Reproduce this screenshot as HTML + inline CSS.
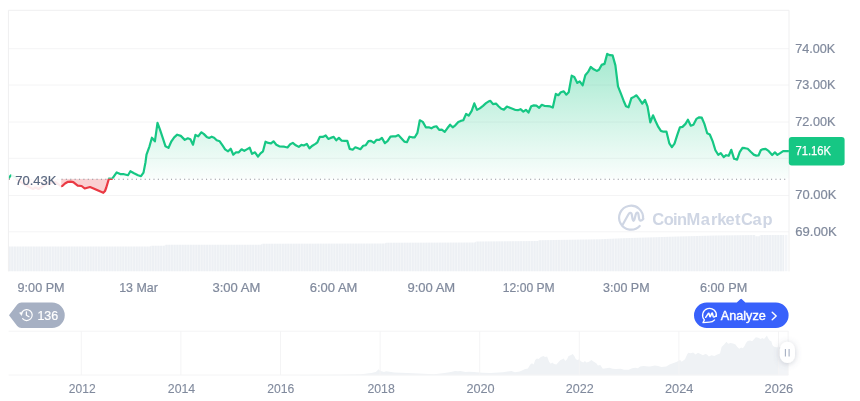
<!DOCTYPE html>
<html lang="en"><head><meta charset="utf-8"><title>BTC price chart</title>
<style>
html,body{margin:0;padding:0;background:#fff;}
body{width:860px;height:401px;overflow:hidden;font-family:"Liberation Sans",sans-serif;}
svg{display:block;}
text{font-family:"Liberation Sans",sans-serif;}
</style></head><body>
<svg width="860" height="401" viewBox="0 0 860 401" style="will-change:transform">
<defs>
<linearGradient id="gg" gradientUnits="userSpaceOnUse" x1="0" y1="50" x2="0" y2="179">
<stop offset="0" stop-color="#16c784" stop-opacity="0.40"/>
<stop offset="1" stop-color="#16c784" stop-opacity="0.02"/>
</linearGradient>
<pattern id="vs" patternUnits="userSpaceOnUse" x="8.64" y="0" width="2.7066" height="50">
<rect x="0" y="0" width="2.2" height="50" fill="#edf0f4"/><rect x="2.2" y="0" width="0.5066" height="50" fill="#f2f4f7"/>
</pattern>
<filter id="sh" x="-60%" y="-40%" width="220%" height="200%"><feDropShadow dx="0" dy="1" stdDeviation="3" flood-color="#58667e" flood-opacity="0.3"/></filter>
<clipPath id="cu"><rect x="8.9" y="10" width="780" height="168.8"/></clipPath>
<clipPath id="cd"><rect x="8.9" y="178.8" width="104" height="60"/></clipPath>
</defs>
<rect width="860" height="401" fill="#fff"/>

<line x1="8" y1="48.7" x2="789" y2="48.7" stroke="#f4f4f5" stroke-width="1"/>
<line x1="8" y1="85.0" x2="789" y2="85.0" stroke="#f4f4f5" stroke-width="1"/>
<line x1="8" y1="122.0" x2="789" y2="122.0" stroke="#f4f4f5" stroke-width="1"/>
<line x1="8" y1="158.3" x2="789" y2="158.3" stroke="#f4f4f5" stroke-width="1"/>
<line x1="8" y1="195.5" x2="789" y2="195.5" stroke="#f4f4f5" stroke-width="1"/>
<line x1="8" y1="231.8" x2="789" y2="231.8" stroke="#f4f4f5" stroke-width="1"/>
<path d="M8.6 246.6 L150.0 246.5 L151.0 245.8 L164.5 245.7 L165.5 244.8 L261.0 244.7 L262.0 243.8 L385.0 243.4 L386.0 242.8 L475.0 242.5 L476.0 241.4 L538.0 241.0 L539.0 240.2 L600.0 239.2 L622.0 238.2 L678.0 236.6 L715.0 235.4 L755.0 235.0 L755.5 236.2 L759.5 236.2 L760.0 235.0 L784.3 234.9 L784.3 271.2 L8.6 271.2 Z" fill="url(#vs)"/>
<rect x="785" y="234.9" width="2.4" height="36.3" fill="#f3f5f8"/>
<path d="M8.4 271.4 V10.3 H789 V271.4" fill="none" stroke="#efeff0" stroke-width="1"/>
<g id="wm" fill="none" stroke="#cfd6e4" stroke-width="2.2" stroke-linecap="round" stroke-linejoin="round">
<path d="M643.05 218.75 A12 12 0 1 0 639.73 226.04"/>
<path d="M622.8 224.5 L628.2 214.8 C629.4 212.6 631.2 211.8 631.7 214.2 L632.5 218.8 C633 221.6 634 221.6 634.6 219 L635.7 214.6 C636.4 212.2 638 211.8 638.4 214.2 L639 218 C639.5 221.4 641.2 221.2 643.3 218.9"/>
</g>
<text x="652.2 663.7 673.1 677 686.6 700.7 710.9 717.2 725.6 735 740.9 752.4 762.6" y="224.7" font-size="16.5" font-weight="700" fill="#cfd6e4">CoinMarketCap</text>

<g clip-path="url(#cu)"><path d="M8.6 178.2 L10.8 175.4 L13.0 176.0 L15.5 177.2 L16.5 179.0 L20.0 181.5 L24.0 184.0 L27.0 185.8 L30.0 187.5 L33.0 189.0 L35.5 187.5 L38.5 189.0 L41.0 187.5 L45.0 184.5 L50.0 183.5 L55.0 182.0 L58.0 184.0 L61.0 186.3 L62.3 186.0 L65.0 183.5 L68.0 181.8 L70.5 181.6 L73.3 182.2 L77.7 185.7 L81.6 186.0 L84.7 188.5 L90.0 187.0 L93.0 188.2 L97.0 190.0 L100.5 191.6 L103.3 192.8 L105.0 191.0 L106.3 187.5 L108.9 178.7 L112.1 178.9 L116.7 172.4 L120.2 174.1 L124.0 174.2 L128.0 175.2 L130.4 171.2 L134.0 173.2 L138.0 175.2 L141.0 176.2 L143.5 172.6 L145.5 162.2 L146.5 154.7 L149.5 146.3 L151.9 137.7 L154.9 141.3 L157.5 122.8 L159.9 129.3 L162.9 138.3 L165.5 146.3 L168.5 147.9 L171.4 141.3 L174.2 137.3 L177.2 134.7 L180.8 135.9 L184.8 139.9 L187.8 138.3 L190.4 139.3 L193.0 144.7 L195.4 134.9 L198.2 136.3 L201.2 132.3 L203.7 133.9 L206.7 136.9 L209.1 137.9 L211.7 136.7 L214.1 137.7 L216.7 140.3 L219.7 141.3 L222.7 145.7 L225.1 149.3 L228.1 151.3 L230.7 148.7 L233.3 154.7 L236.0 152.3 L238.8 152.3 L241.6 149.3 L244.3 150.9 L247.2 149.1 L249.7 147.7 L252.0 153.9 L255.0 152.3 L258.0 156.7 L260.5 153.3 L263.0 151.3 L265.5 141.7 L268.3 142.9 L271.0 143.3 L273.5 141.3 L276.3 144.7 L279.3 146.3 L284.3 146.7 L287.5 147.5 L290.2 144.3 L292.8 142.9 L295.8 145.3 L298.8 146.9 L301.4 144.9 L303.8 145.5 L306.8 143.9 L309.4 148.3 L312.4 145.7 L315.4 143.9 L317.4 142.3 L319.8 136.9 L322.8 136.9 L325.7 135.5 L328.3 138.9 L330.7 137.9 L333.7 136.9 L336.3 140.3 L338.9 137.9 L341.7 140.7 L344.7 140.9 L347.3 140.9 L349.7 148.9 L352.7 149.7 L355.3 147.3 L358.0 148.3 L360.4 149.2 L363.2 145.8 L365.8 145.2 L368.5 141.2 L371.0 140.8 L374.0 142.8 L376.6 139.8 L379.3 139.8 L381.9 137.9 L384.9 143.2 L387.5 141.2 L390.5 136.7 L392.9 136.3 L395.9 136.3 L398.5 135.1 L401.3 138.3 L404.3 141.6 L406.9 142.2 L409.5 136.7 L412.2 137.3 L414.8 137.3 L417.4 132.9 L419.8 120.3 L422.8 121.9 L425.8 127.3 L428.8 127.3 L431.4 128.3 L433.8 126.9 L436.4 126.3 L439.2 129.9 L441.8 129.7 L444.7 131.9 L447.3 128.3 L450.1 124.7 L452.7 127.3 L455.3 125.3 L458.3 121.9 L460.7 120.9 L463.3 120.3 L466.1 113.9 L468.7 115.7 L471.7 110.9 L474.3 103.4 L477.0 109.9 L479.8 108.4 L483.0 105.8 L486.0 103.2 L488.4 101.6 L490.4 100.8 L493.0 104.2 L496.0 103.6 L498.5 106.2 L501.3 108.8 L503.9 109.6 L506.9 106.6 L509.9 107.8 L512.5 108.8 L515.5 110.0 L517.9 110.2 L520.5 109.2 L523.3 111.6 L525.9 109.8 L528.5 112.6 L531.2 106.2 L533.8 105.4 L536.4 105.6 L539.2 107.8 L541.8 104.8 L544.8 106.0 L547.8 106.2 L550.2 106.4 L552.8 107.6 L555.8 93.9 L558.4 95.2 L560.8 92.3 L563.8 91.3 L566.3 94.7 L568.7 92.3 L571.7 75.7 L574.3 76.9 L577.3 82.9 L579.7 81.3 L582.7 85.3 L585.3 75.3 L588.1 71.9 L590.7 66.9 L593.7 69.3 L596.7 70.9 L599.0 69.7 L601.6 64.9 L604.5 63.9 L607.2 53.9 L610.0 55.2 L612.6 55.4 L615.4 65.4 L618.0 86.3 L621.0 93.9 L623.6 100.7 L626.0 106.3 L628.5 107.3 L631.3 98.3 L633.9 96.9 L636.5 95.3 L639.5 99.3 L642.3 103.7 L645.0 100.0 L647.5 106.4 L650.3 122.4 L653.0 115.3 L655.6 121.3 L658.3 126.9 L660.9 130.9 L663.5 131.7 L666.5 131.7 L669.3 143.3 L671.9 147.2 L674.5 143.7 L677.3 134.9 L679.9 127.3 L682.5 126.9 L685.5 123.9 L687.9 119.7 L690.8 125.7 L693.4 124.7 L696.4 118.9 L699.2 117.3 L701.8 117.7 L704.4 123.9 L707.2 133.3 L709.8 134.5 L712.8 141.7 L715.4 150.2 L718.2 154.8 L720.8 153.2 L723.7 157.2 L726.1 155.2 L728.7 155.8 L731.3 149.8 L734.1 158.8 L737.1 159.6 L739.7 152.2 L742.5 147.8 L745.1 148.2 L747.7 148.8 L750.7 151.8 L753.7 154.6 L756.3 155.6 L758.5 155.5 L760.8 150.3 L762.2 149.4 L765.6 148.8 L768.8 151.2 L772.2 155.0 L774.9 152.4 L777.4 154.9 L780.2 153.1 L783.1 151.2 L788.7 151.2 L788.7 178.8 L8.6 178.8 Z" fill="url(#gg)"/></g>
<g clip-path="url(#cd)"><path d="M8.6 178.2 L10.8 175.4 L13.0 176.0 L15.5 177.2 L16.5 179.0 L20.0 181.5 L24.0 184.0 L27.0 185.8 L30.0 187.5 L33.0 189.0 L35.5 187.5 L38.5 189.0 L41.0 187.5 L45.0 184.5 L50.0 183.5 L55.0 182.0 L58.0 184.0 L61.0 186.3 L62.3 186.0 L65.0 183.5 L68.0 181.8 L70.5 181.6 L73.3 182.2 L77.7 185.7 L81.6 186.0 L84.7 188.5 L90.0 187.0 L93.0 188.2 L97.0 190.0 L100.5 191.6 L103.3 192.8 L105.0 191.0 L106.3 187.5 L108.9 178.7 L112.1 178.9 L116.7 172.4 L120.2 174.1 L124.0 174.2 L128.0 175.2 L130.4 171.2 L134.0 173.2 L138.0 175.2 L141.0 176.2 L143.5 172.6 L145.5 162.2 L146.5 154.7 L149.5 146.3 L151.9 137.7 L154.9 141.3 L157.5 122.8 L159.9 129.3 L162.9 138.3 L165.5 146.3 L168.5 147.9 L171.4 141.3 L174.2 137.3 L177.2 134.7 L180.8 135.9 L184.8 139.9 L187.8 138.3 L190.4 139.3 L193.0 144.7 L195.4 134.9 L198.2 136.3 L201.2 132.3 L203.7 133.9 L206.7 136.9 L209.1 137.9 L211.7 136.7 L214.1 137.7 L216.7 140.3 L219.7 141.3 L222.7 145.7 L225.1 149.3 L228.1 151.3 L230.7 148.7 L233.3 154.7 L236.0 152.3 L238.8 152.3 L241.6 149.3 L244.3 150.9 L247.2 149.1 L249.7 147.7 L252.0 153.9 L255.0 152.3 L258.0 156.7 L260.5 153.3 L263.0 151.3 L265.5 141.7 L268.3 142.9 L271.0 143.3 L273.5 141.3 L276.3 144.7 L279.3 146.3 L284.3 146.7 L287.5 147.5 L290.2 144.3 L292.8 142.9 L295.8 145.3 L298.8 146.9 L301.4 144.9 L303.8 145.5 L306.8 143.9 L309.4 148.3 L312.4 145.7 L315.4 143.9 L317.4 142.3 L319.8 136.9 L322.8 136.9 L325.7 135.5 L328.3 138.9 L330.7 137.9 L333.7 136.9 L336.3 140.3 L338.9 137.9 L341.7 140.7 L344.7 140.9 L347.3 140.9 L349.7 148.9 L352.7 149.7 L355.3 147.3 L358.0 148.3 L360.4 149.2 L363.2 145.8 L365.8 145.2 L368.5 141.2 L371.0 140.8 L374.0 142.8 L376.6 139.8 L379.3 139.8 L381.9 137.9 L384.9 143.2 L387.5 141.2 L390.5 136.7 L392.9 136.3 L395.9 136.3 L398.5 135.1 L401.3 138.3 L404.3 141.6 L406.9 142.2 L409.5 136.7 L412.2 137.3 L414.8 137.3 L417.4 132.9 L419.8 120.3 L422.8 121.9 L425.8 127.3 L428.8 127.3 L431.4 128.3 L433.8 126.9 L436.4 126.3 L439.2 129.9 L441.8 129.7 L444.7 131.9 L447.3 128.3 L450.1 124.7 L452.7 127.3 L455.3 125.3 L458.3 121.9 L460.7 120.9 L463.3 120.3 L466.1 113.9 L468.7 115.7 L471.7 110.9 L474.3 103.4 L477.0 109.9 L479.8 108.4 L483.0 105.8 L486.0 103.2 L488.4 101.6 L490.4 100.8 L493.0 104.2 L496.0 103.6 L498.5 106.2 L501.3 108.8 L503.9 109.6 L506.9 106.6 L509.9 107.8 L512.5 108.8 L515.5 110.0 L517.9 110.2 L520.5 109.2 L523.3 111.6 L525.9 109.8 L528.5 112.6 L531.2 106.2 L533.8 105.4 L536.4 105.6 L539.2 107.8 L541.8 104.8 L544.8 106.0 L547.8 106.2 L550.2 106.4 L552.8 107.6 L555.8 93.9 L558.4 95.2 L560.8 92.3 L563.8 91.3 L566.3 94.7 L568.7 92.3 L571.7 75.7 L574.3 76.9 L577.3 82.9 L579.7 81.3 L582.7 85.3 L585.3 75.3 L588.1 71.9 L590.7 66.9 L593.7 69.3 L596.7 70.9 L599.0 69.7 L601.6 64.9 L604.5 63.9 L607.2 53.9 L610.0 55.2 L612.6 55.4 L615.4 65.4 L618.0 86.3 L621.0 93.9 L623.6 100.7 L626.0 106.3 L628.5 107.3 L631.3 98.3 L633.9 96.9 L636.5 95.3 L639.5 99.3 L642.3 103.7 L645.0 100.0 L647.5 106.4 L650.3 122.4 L653.0 115.3 L655.6 121.3 L658.3 126.9 L660.9 130.9 L663.5 131.7 L666.5 131.7 L669.3 143.3 L671.9 147.2 L674.5 143.7 L677.3 134.9 L679.9 127.3 L682.5 126.9 L685.5 123.9 L687.9 119.7 L690.8 125.7 L693.4 124.7 L696.4 118.9 L699.2 117.3 L701.8 117.7 L704.4 123.9 L707.2 133.3 L709.8 134.5 L712.8 141.7 L715.4 150.2 L718.2 154.8 L720.8 153.2 L723.7 157.2 L726.1 155.2 L728.7 155.8 L731.3 149.8 L734.1 158.8 L737.1 159.6 L739.7 152.2 L742.5 147.8 L745.1 148.2 L747.7 148.8 L750.7 151.8 L753.7 154.6 L756.3 155.6 L758.5 155.5 L760.8 150.3 L762.2 149.4 L765.6 148.8 L768.8 151.2 L772.2 155.0 L774.9 152.4 L777.4 154.9 L780.2 153.1 L783.1 151.2 L788.7 151.2 L788.7 178.8 L8.6 178.8 Z" fill="#ea3943" fill-opacity="0.24"/></g>
<line x1="8.9" y1="179.25" x2="788" y2="179.25" stroke="#8e929a" stroke-width="1.15" stroke-dasharray="1.1 3.28"/>
<g clip-path="url(#cu)"><path d="M8.6 178.2 L10.8 175.4 L13.0 176.0 L15.5 177.2 L16.5 179.0 L20.0 181.5 L24.0 184.0 L27.0 185.8 L30.0 187.5 L33.0 189.0 L35.5 187.5 L38.5 189.0 L41.0 187.5 L45.0 184.5 L50.0 183.5 L55.0 182.0 L58.0 184.0 L61.0 186.3 L62.3 186.0 L65.0 183.5 L68.0 181.8 L70.5 181.6 L73.3 182.2 L77.7 185.7 L81.6 186.0 L84.7 188.5 L90.0 187.0 L93.0 188.2 L97.0 190.0 L100.5 191.6 L103.3 192.8 L105.0 191.0 L106.3 187.5 L108.9 178.7 L112.1 178.9 L116.7 172.4 L120.2 174.1 L124.0 174.2 L128.0 175.2 L130.4 171.2 L134.0 173.2 L138.0 175.2 L141.0 176.2 L143.5 172.6 L145.5 162.2 L146.5 154.7 L149.5 146.3 L151.9 137.7 L154.9 141.3 L157.5 122.8 L159.9 129.3 L162.9 138.3 L165.5 146.3 L168.5 147.9 L171.4 141.3 L174.2 137.3 L177.2 134.7 L180.8 135.9 L184.8 139.9 L187.8 138.3 L190.4 139.3 L193.0 144.7 L195.4 134.9 L198.2 136.3 L201.2 132.3 L203.7 133.9 L206.7 136.9 L209.1 137.9 L211.7 136.7 L214.1 137.7 L216.7 140.3 L219.7 141.3 L222.7 145.7 L225.1 149.3 L228.1 151.3 L230.7 148.7 L233.3 154.7 L236.0 152.3 L238.8 152.3 L241.6 149.3 L244.3 150.9 L247.2 149.1 L249.7 147.7 L252.0 153.9 L255.0 152.3 L258.0 156.7 L260.5 153.3 L263.0 151.3 L265.5 141.7 L268.3 142.9 L271.0 143.3 L273.5 141.3 L276.3 144.7 L279.3 146.3 L284.3 146.7 L287.5 147.5 L290.2 144.3 L292.8 142.9 L295.8 145.3 L298.8 146.9 L301.4 144.9 L303.8 145.5 L306.8 143.9 L309.4 148.3 L312.4 145.7 L315.4 143.9 L317.4 142.3 L319.8 136.9 L322.8 136.9 L325.7 135.5 L328.3 138.9 L330.7 137.9 L333.7 136.9 L336.3 140.3 L338.9 137.9 L341.7 140.7 L344.7 140.9 L347.3 140.9 L349.7 148.9 L352.7 149.7 L355.3 147.3 L358.0 148.3 L360.4 149.2 L363.2 145.8 L365.8 145.2 L368.5 141.2 L371.0 140.8 L374.0 142.8 L376.6 139.8 L379.3 139.8 L381.9 137.9 L384.9 143.2 L387.5 141.2 L390.5 136.7 L392.9 136.3 L395.9 136.3 L398.5 135.1 L401.3 138.3 L404.3 141.6 L406.9 142.2 L409.5 136.7 L412.2 137.3 L414.8 137.3 L417.4 132.9 L419.8 120.3 L422.8 121.9 L425.8 127.3 L428.8 127.3 L431.4 128.3 L433.8 126.9 L436.4 126.3 L439.2 129.9 L441.8 129.7 L444.7 131.9 L447.3 128.3 L450.1 124.7 L452.7 127.3 L455.3 125.3 L458.3 121.9 L460.7 120.9 L463.3 120.3 L466.1 113.9 L468.7 115.7 L471.7 110.9 L474.3 103.4 L477.0 109.9 L479.8 108.4 L483.0 105.8 L486.0 103.2 L488.4 101.6 L490.4 100.8 L493.0 104.2 L496.0 103.6 L498.5 106.2 L501.3 108.8 L503.9 109.6 L506.9 106.6 L509.9 107.8 L512.5 108.8 L515.5 110.0 L517.9 110.2 L520.5 109.2 L523.3 111.6 L525.9 109.8 L528.5 112.6 L531.2 106.2 L533.8 105.4 L536.4 105.6 L539.2 107.8 L541.8 104.8 L544.8 106.0 L547.8 106.2 L550.2 106.4 L552.8 107.6 L555.8 93.9 L558.4 95.2 L560.8 92.3 L563.8 91.3 L566.3 94.7 L568.7 92.3 L571.7 75.7 L574.3 76.9 L577.3 82.9 L579.7 81.3 L582.7 85.3 L585.3 75.3 L588.1 71.9 L590.7 66.9 L593.7 69.3 L596.7 70.9 L599.0 69.7 L601.6 64.9 L604.5 63.9 L607.2 53.9 L610.0 55.2 L612.6 55.4 L615.4 65.4 L618.0 86.3 L621.0 93.9 L623.6 100.7 L626.0 106.3 L628.5 107.3 L631.3 98.3 L633.9 96.9 L636.5 95.3 L639.5 99.3 L642.3 103.7 L645.0 100.0 L647.5 106.4 L650.3 122.4 L653.0 115.3 L655.6 121.3 L658.3 126.9 L660.9 130.9 L663.5 131.7 L666.5 131.7 L669.3 143.3 L671.9 147.2 L674.5 143.7 L677.3 134.9 L679.9 127.3 L682.5 126.9 L685.5 123.9 L687.9 119.7 L690.8 125.7 L693.4 124.7 L696.4 118.9 L699.2 117.3 L701.8 117.7 L704.4 123.9 L707.2 133.3 L709.8 134.5 L712.8 141.7 L715.4 150.2 L718.2 154.8 L720.8 153.2 L723.7 157.2 L726.1 155.2 L728.7 155.8 L731.3 149.8 L734.1 158.8 L737.1 159.6 L739.7 152.2 L742.5 147.8 L745.1 148.2 L747.7 148.8 L750.7 151.8 L753.7 154.6 L756.3 155.6 L758.5 155.5 L760.8 150.3 L762.2 149.4 L765.6 148.8 L768.8 151.2 L772.2 155.0 L774.9 152.4 L777.4 154.9 L780.2 153.1 L783.1 151.2 L788.7 151.2" fill="none" stroke="#16c784" stroke-width="2.2" stroke-linejoin="round" stroke-linecap="round"/></g>
<g clip-path="url(#cd)"><path d="M8.6 178.2 L10.8 175.4 L13.0 176.0 L15.5 177.2 L16.5 179.0 L20.0 181.5 L24.0 184.0 L27.0 185.8 L30.0 187.5 L33.0 189.0 L35.5 187.5 L38.5 189.0 L41.0 187.5 L45.0 184.5 L50.0 183.5 L55.0 182.0 L58.0 184.0 L61.0 186.3 L62.3 186.0 L65.0 183.5 L68.0 181.8 L70.5 181.6 L73.3 182.2 L77.7 185.7 L81.6 186.0 L84.7 188.5 L90.0 187.0 L93.0 188.2 L97.0 190.0 L100.5 191.6 L103.3 192.8 L105.0 191.0 L106.3 187.5 L108.9 178.7 L112.1 178.9 L116.7 172.4 L120.2 174.1 L124.0 174.2 L128.0 175.2 L130.4 171.2 L134.0 173.2 L138.0 175.2 L141.0 176.2 L143.5 172.6 L145.5 162.2 L146.5 154.7 L149.5 146.3 L151.9 137.7 L154.9 141.3 L157.5 122.8 L159.9 129.3 L162.9 138.3 L165.5 146.3 L168.5 147.9 L171.4 141.3 L174.2 137.3 L177.2 134.7 L180.8 135.9 L184.8 139.9 L187.8 138.3 L190.4 139.3 L193.0 144.7 L195.4 134.9 L198.2 136.3 L201.2 132.3 L203.7 133.9 L206.7 136.9 L209.1 137.9 L211.7 136.7 L214.1 137.7 L216.7 140.3 L219.7 141.3 L222.7 145.7 L225.1 149.3 L228.1 151.3 L230.7 148.7 L233.3 154.7 L236.0 152.3 L238.8 152.3 L241.6 149.3 L244.3 150.9 L247.2 149.1 L249.7 147.7 L252.0 153.9 L255.0 152.3 L258.0 156.7 L260.5 153.3 L263.0 151.3 L265.5 141.7 L268.3 142.9 L271.0 143.3 L273.5 141.3 L276.3 144.7 L279.3 146.3 L284.3 146.7 L287.5 147.5 L290.2 144.3 L292.8 142.9 L295.8 145.3 L298.8 146.9 L301.4 144.9 L303.8 145.5 L306.8 143.9 L309.4 148.3 L312.4 145.7 L315.4 143.9 L317.4 142.3 L319.8 136.9 L322.8 136.9 L325.7 135.5 L328.3 138.9 L330.7 137.9 L333.7 136.9 L336.3 140.3 L338.9 137.9 L341.7 140.7 L344.7 140.9 L347.3 140.9 L349.7 148.9 L352.7 149.7 L355.3 147.3 L358.0 148.3 L360.4 149.2 L363.2 145.8 L365.8 145.2 L368.5 141.2 L371.0 140.8 L374.0 142.8 L376.6 139.8 L379.3 139.8 L381.9 137.9 L384.9 143.2 L387.5 141.2 L390.5 136.7 L392.9 136.3 L395.9 136.3 L398.5 135.1 L401.3 138.3 L404.3 141.6 L406.9 142.2 L409.5 136.7 L412.2 137.3 L414.8 137.3 L417.4 132.9 L419.8 120.3 L422.8 121.9 L425.8 127.3 L428.8 127.3 L431.4 128.3 L433.8 126.9 L436.4 126.3 L439.2 129.9 L441.8 129.7 L444.7 131.9 L447.3 128.3 L450.1 124.7 L452.7 127.3 L455.3 125.3 L458.3 121.9 L460.7 120.9 L463.3 120.3 L466.1 113.9 L468.7 115.7 L471.7 110.9 L474.3 103.4 L477.0 109.9 L479.8 108.4 L483.0 105.8 L486.0 103.2 L488.4 101.6 L490.4 100.8 L493.0 104.2 L496.0 103.6 L498.5 106.2 L501.3 108.8 L503.9 109.6 L506.9 106.6 L509.9 107.8 L512.5 108.8 L515.5 110.0 L517.9 110.2 L520.5 109.2 L523.3 111.6 L525.9 109.8 L528.5 112.6 L531.2 106.2 L533.8 105.4 L536.4 105.6 L539.2 107.8 L541.8 104.8 L544.8 106.0 L547.8 106.2 L550.2 106.4 L552.8 107.6 L555.8 93.9 L558.4 95.2 L560.8 92.3 L563.8 91.3 L566.3 94.7 L568.7 92.3 L571.7 75.7 L574.3 76.9 L577.3 82.9 L579.7 81.3 L582.7 85.3 L585.3 75.3 L588.1 71.9 L590.7 66.9 L593.7 69.3 L596.7 70.9 L599.0 69.7 L601.6 64.9 L604.5 63.9 L607.2 53.9 L610.0 55.2 L612.6 55.4 L615.4 65.4 L618.0 86.3 L621.0 93.9 L623.6 100.7 L626.0 106.3 L628.5 107.3 L631.3 98.3 L633.9 96.9 L636.5 95.3 L639.5 99.3 L642.3 103.7 L645.0 100.0 L647.5 106.4 L650.3 122.4 L653.0 115.3 L655.6 121.3 L658.3 126.9 L660.9 130.9 L663.5 131.7 L666.5 131.7 L669.3 143.3 L671.9 147.2 L674.5 143.7 L677.3 134.9 L679.9 127.3 L682.5 126.9 L685.5 123.9 L687.9 119.7 L690.8 125.7 L693.4 124.7 L696.4 118.9 L699.2 117.3 L701.8 117.7 L704.4 123.9 L707.2 133.3 L709.8 134.5 L712.8 141.7 L715.4 150.2 L718.2 154.8 L720.8 153.2 L723.7 157.2 L726.1 155.2 L728.7 155.8 L731.3 149.8 L734.1 158.8 L737.1 159.6 L739.7 152.2 L742.5 147.8 L745.1 148.2 L747.7 148.8 L750.7 151.8 L753.7 154.6 L756.3 155.6 L758.5 155.5 L760.8 150.3 L762.2 149.4 L765.6 148.8 L768.8 151.2 L772.2 155.0 L774.9 152.4 L777.4 154.9 L780.2 153.1 L783.1 151.2 L788.7 151.2" fill="none" stroke="#ea3943" stroke-width="2.2" stroke-linejoin="round" stroke-linecap="round"/></g>
<rect x="11.2" y="168" width="50" height="24" fill="#fff" fill-opacity="0.9"/>
<text x="15.2" y="184.8" font-size="12.2" fill="#58667e" stroke="#58667e" stroke-width="0.15" textLength="41.4" lengthAdjust="spacingAndGlyphs">70.43K</text>
<text x="795.3" y="52.6" font-size="12.4" fill="#808a9d" stroke="#808a9d" stroke-width="0.2" textLength="40" lengthAdjust="spacingAndGlyphs">74.00K</text>
<text x="795.3" y="88.9" font-size="12.4" fill="#808a9d" stroke="#808a9d" stroke-width="0.2" textLength="40.1" lengthAdjust="spacingAndGlyphs">73.00K</text>
<text x="795.3" y="125.9" font-size="12.4" fill="#808a9d" stroke="#808a9d" stroke-width="0.2" textLength="40.1" lengthAdjust="spacingAndGlyphs">72.00K</text>
<text x="795.3" y="162.2" font-size="12.4" fill="#808a9d" stroke="#808a9d" stroke-width="0.2" textLength="38.6" lengthAdjust="spacingAndGlyphs">71.00K</text>
<text x="795.3" y="199.4" font-size="12.4" fill="#808a9d" stroke="#808a9d" stroke-width="0.2" textLength="41" lengthAdjust="spacingAndGlyphs">70.00K</text>
<text x="795.3" y="235.7" font-size="12.4" fill="#808a9d" stroke="#808a9d" stroke-width="0.2" textLength="41.5" lengthAdjust="spacingAndGlyphs">69.00K</text>
<rect x="788.8" y="137" width="55.8" height="28.4" rx="3" fill="#16c784"/>
<text x="795.4" y="155.2" font-size="12.3" fill="#fff" stroke="#fff" stroke-width="0.25" textLength="35.6" lengthAdjust="spacingAndGlyphs">71.16K</text>
<text x="17.6" y="292.3" font-size="12.2" fill="#808a9d" stroke="#808a9d" stroke-width="0.2" textLength="47" lengthAdjust="spacingAndGlyphs">9:00 PM</text>
<text x="119.2" y="292.3" font-size="12.2" fill="#808a9d" stroke="#808a9d" stroke-width="0.2" textLength="38.6" lengthAdjust="spacingAndGlyphs">13 Mar</text>
<text x="212.5" y="292.3" font-size="12.2" fill="#808a9d" stroke="#808a9d" stroke-width="0.2" textLength="47.8" lengthAdjust="spacingAndGlyphs">3:00 AM</text>
<text x="309.7" y="292.3" font-size="12.2" fill="#808a9d" stroke="#808a9d" stroke-width="0.2" textLength="47.7" lengthAdjust="spacingAndGlyphs">6:00 AM</text>
<text x="407.4" y="292.3" font-size="12.2" fill="#808a9d" stroke="#808a9d" stroke-width="0.2" textLength="47.8" lengthAdjust="spacingAndGlyphs">9:00 AM</text>
<text x="502.8" y="292.3" font-size="12.2" fill="#808a9d" stroke="#808a9d" stroke-width="0.2" textLength="51.9" lengthAdjust="spacingAndGlyphs">12:00 PM</text>
<text x="603.1" y="292.3" font-size="12.2" fill="#808a9d" stroke="#808a9d" stroke-width="0.2" textLength="46.5" lengthAdjust="spacingAndGlyphs">3:00 PM</text>
<text x="700" y="292.3" font-size="12.2" fill="#808a9d" stroke="#808a9d" stroke-width="0.2" textLength="47.2" lengthAdjust="spacingAndGlyphs">6:00 PM</text>
<path d="M9 315.3 L17.2 304.6 Q18.8 302.5 21.5 302.5 H52 A12.75 12.75 0 0 1 52 328 H21.5 Q18.8 328 17.2 325.9 Z" fill="#a6b0c3"/>
<g fill="none" stroke="#fff" stroke-linecap="round" stroke-linejoin="round">
<path d="M22.4 311.6 A5.5 5.5 0 1 1 22.6 318.7" stroke-width="1.2"/>
<path d="M26.4 311.9 V315.2 L29 316.7" stroke-width="1.3"/>
</g>
<path d="M19.5 312.8 L22.7 311.9 L21.5 315.5 Z" fill="#fff" stroke="#fff" stroke-width="0.5" stroke-linejoin="round"/>
<text x="37.4" y="319.8" font-size="12.2" fill="#fff" stroke="#fff" stroke-width="0.2" textLength="20.8" lengthAdjust="spacingAndGlyphs">136</text>

<path d="M706.8 302.4 H736.8 L740.3 299.2 Q741.1 298.5 741.9 299.2 L745.4 302.4 H775.8 A12.8 12.8 0 0 1 775.8 328 H706.8 A12.8 12.8 0 0 1 706.8 302.4 Z" fill="#3861fb"/>
<g fill="none" stroke="#fff" stroke-linecap="round" stroke-linejoin="round">
<path d="M714.6 319.9 Q712.6 322.2 709.4 322.2 L703 322.6 L704.4 319.9 A6.9 6.9 0 1 1 716.3 316.4" stroke-width="1.3"/>
<path d="M705.7 317.3 L708.2 313.6 Q708.8 312.9 709.1 313.8 L709.8 316.4 Q710.1 317 710.5 316.3 L711.7 313.4 Q712.2 312.7 712.5 313.6 L713.1 316.2 Q713.6 317.8 716.2 315.9" stroke-width="1.5"/>
</g>
<text x="720.8" y="319.8" font-size="12.4" fill="#fff" stroke="#fff" stroke-width="0.35" textLength="45" lengthAdjust="spacingAndGlyphs">Analyze</text>
<path d="M772.2 312.3 L776.2 316 L772.2 319.7" fill="none" stroke="#fff" stroke-width="1.4" stroke-linecap="round" stroke-linejoin="round"/>

<path d="M300.0 374.9 L340.0 374.8 L361.0 374.2 L371.4 373.1 L375.6 372.1 L377.0 371.0 L378.3 369.3 L379.5 370.2 L380.8 371.0 L384.0 372.1 L386.0 371.3 L388.0 371.6 L391.0 372.0 L394.4 372.5 L407.0 373.1 L423.7 373.7 L434.0 374.2 L444.6 373.1 L450.9 371.9 L453.0 371.6 L455.0 371.0 L458.0 371.3 L460.3 371.0 L465.5 371.9 L469.0 371.7 L473.9 372.1 L482.3 372.7 L490.6 373.1 L499.0 372.5 L503.0 372.2 L507.4 371.6 L511.5 371.0 L514.9 372.3 L519.8 371.5 L524.7 369.3 L527.9 368.5 L530.3 364.5 L532.0 363.3 L533.6 364.5 L535.2 360.1 L536.9 358.4 L538.5 358.9 L540.9 357.1 L543.4 356.0 L545.0 357.1 L547.1 356.5 L549.1 361.7 L550.7 363.8 L552.3 362.5 L554.0 364.1 L556.4 364.6 L558.8 361.7 L560.5 360.1 L562.4 359.2 L563.7 358.4 L565.3 360.9 L567.0 359.2 L568.6 356.0 L570.6 355.2 L572.7 354.0 L574.3 356.0 L575.9 359.2 L577.6 360.1 L579.2 359.2 L580.8 361.2 L583.3 362.5 L584.9 360.9 L586.5 362.5 L589.0 361.7 L591.4 360.1 L593.8 361.7 L596.3 363.3 L597.9 365.4 L600.3 364.9 L602.8 368.7 L606.0 368.2 L609.3 367.7 L612.6 368.7 L615.8 369.0 L620.7 368.7 L624.0 369.8 L628.8 369.8 L632.1 368.2 L635.3 367.7 L637.8 368.2 L640.2 366.6 L643.5 366.1 L648.4 366.6 L650.0 366.6 L654.9 365.4 L658.1 366.1 L661.4 367.1 L666.3 366.6 L669.5 364.5 L673.6 363.0 L676.9 361.7 L680.1 360.1 L681.7 361.7 L685.0 359.2 L687.1 354.4 L688.3 352.7 L690.7 353.2 L693.1 352.4 L695.6 354.4 L698.0 352.7 L700.5 354.0 L702.9 355.2 L705.3 354.0 L707.0 354.4 L708.9 356.5 L711.5 355.2 L714.3 356.0 L716.7 354.7 L720.0 353.5 L721.6 347.0 L724.1 344.6 L726.5 341.7 L728.1 343.8 L730.6 343.0 L733.0 343.5 L735.5 344.6 L737.1 346.7 L739.2 348.7 L741.2 347.5 L742.8 348.3 L744.4 346.2 L746.0 343.0 L747.7 341.0 L750.1 340.5 L752.2 341.3 L754.2 338.9 L755.8 337.3 L758.3 337.8 L760.7 338.9 L762.3 338.1 L764.0 338.9 L765.6 337.3 L766.9 335.6 L768.0 338.1 L769.7 340.5 L771.3 341.3 L772.4 345.0 L774.0 346.8 L776.2 347.2 L778.6 347.2 L778.6 375.2 L300 375.2 Z" fill="#eff2f5"/>
<rect x="778.6" y="347.2" width="9.4" height="28" fill="#f2f4f7"/>
<line x1="8.6" y1="331.2" x2="788.4" y2="331.2" stroke="#f4f4f5"/>
<line x1="8.6" y1="375" x2="788.4" y2="375" stroke="#f4f4f5"/>
<line x1="81.3" y1="331" x2="81.3" y2="375" stroke="#f4f4f5"/>
<line x1="180.9" y1="331" x2="180.9" y2="375" stroke="#f4f4f5"/>
<line x1="280.5" y1="331" x2="280.5" y2="375" stroke="#f4f4f5"/>
<line x1="380.1" y1="331" x2="380.1" y2="375" stroke="#f4f4f5"/>
<line x1="479.7" y1="331" x2="479.7" y2="375" stroke="#f4f4f5"/>
<line x1="579.3" y1="331" x2="579.3" y2="375" stroke="#f4f4f5"/>
<line x1="678.9" y1="331" x2="678.9" y2="375" stroke="#f4f4f5"/>
<line x1="778.5" y1="331" x2="778.5" y2="375" stroke="#f4f4f5"/>
<line x1="788.1" y1="331" x2="788.1" y2="375" stroke="#f4f4f5"/>
<text x="68.8" y="393.25" font-size="12.2" fill="#808a9d" stroke="#808a9d" stroke-width="0.1" textLength="26.8" lengthAdjust="spacingAndGlyphs">2012</text>
<text x="167.8" y="393.25" font-size="12.2" fill="#808a9d" stroke="#808a9d" stroke-width="0.1" textLength="27.4" lengthAdjust="spacingAndGlyphs">2014</text>
<text x="267.3" y="393.25" font-size="12.2" fill="#808a9d" stroke="#808a9d" stroke-width="0.1" textLength="27.1" lengthAdjust="spacingAndGlyphs">2016</text>
<text x="367.4" y="393.25" font-size="12.2" fill="#808a9d" stroke="#808a9d" stroke-width="0.1" textLength="27.4" lengthAdjust="spacingAndGlyphs">2018</text>
<text x="466.4" y="393.25" font-size="12.2" fill="#808a9d" stroke="#808a9d" stroke-width="0.1" textLength="28.3" lengthAdjust="spacingAndGlyphs">2020</text>
<text x="565.7" y="393.25" font-size="12.2" fill="#808a9d" stroke="#808a9d" stroke-width="0.1" textLength="28" lengthAdjust="spacingAndGlyphs">2022</text>
<text x="665" y="393.25" font-size="12.2" fill="#808a9d" stroke="#808a9d" stroke-width="0.1" textLength="28.5" lengthAdjust="spacingAndGlyphs">2024</text>
<text x="764.6" y="393.25" font-size="12.2" fill="#808a9d" stroke="#808a9d" stroke-width="0.1" textLength="28.6" lengthAdjust="spacingAndGlyphs">2026</text>
<rect x="779.8" y="341.8" width="15.2" height="21.2" rx="7.6" fill="#fff" filter="url(#sh)"/>
<path d="M785.4 349 V356.4 M789.1 349 V356.4" stroke="#a6b0c3" stroke-width="1.1" fill="none"/>

</svg>
</body></html>
